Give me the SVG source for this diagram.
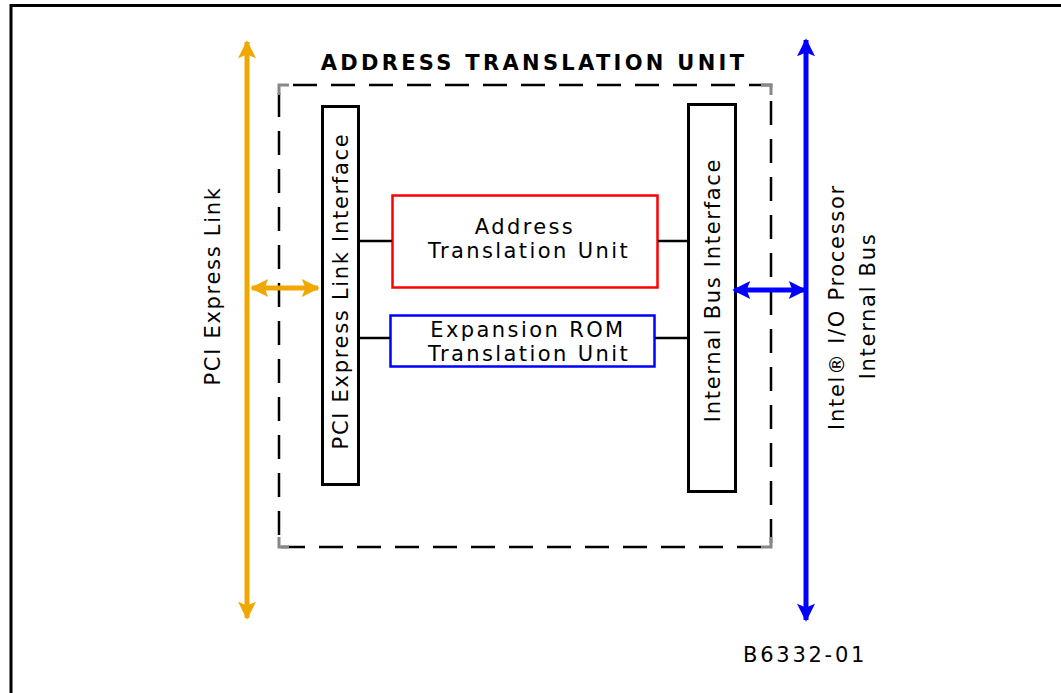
<svg xmlns="http://www.w3.org/2000/svg" width="1061" height="693" viewBox="0 0 1061 693">
  <style>
    text { font-family: "DejaVu Sans", Verdana, sans-serif; fill: #000; font-size: 21px; }
    .lbl { letter-spacing: 2.4px; }
    .vlbl { letter-spacing: 1.7px; }
    .title { font-weight: bold; letter-spacing: 3.3px; }
    .iface { fill: #fff; stroke: #000; stroke-width: 3; }
    .wire { stroke: #000; stroke-width: 2.5; fill: none; }
  </style>
  <defs>
    <marker id="ahO" viewBox="0 0 10 10" refX="9" refY="5" markerWidth="4" markerHeight="3.6" orient="auto-start-reverse" markerUnits="strokeWidth">
      <path d="M0,0 L10,5 L0,10 L2,5 Z" fill="#f0a800"/>
    </marker>
    <marker id="ahB" viewBox="0 0 10 10" refX="9" refY="5" markerWidth="4" markerHeight="3.6" orient="auto-start-reverse" markerUnits="strokeWidth">
      <path d="M0,0 L10,5 L0,10 L2,5 Z" fill="#0000ff"/>
    </marker>
  </defs>

  <rect width="1061" height="693" fill="#fff"/>
  <!-- outer frame -->
  <path d="M11,693 V5.5 H1061" fill="none" stroke="#000" stroke-width="3"/>

  <!-- dashed enclosure -->
  <g id="atu-boundary">
    <rect x="279" y="85" width="492" height="462" fill="none" stroke="#000" stroke-width="2.5" stroke-dasharray="24 14" stroke-dashoffset="-14"/>
    <path d="M279,95 V85 H289 M761,85 H771 V95 M771,537 V547 H761 M289,547 H279 V537" fill="none" stroke="#888" stroke-width="3"/>
    <text class="title" x="534" y="70" text-anchor="middle">ADDRESS TRANSLATION UNIT</text>
  </g>

  <g id="pcie-link-bus">
    <text class="vlbl" transform="translate(220,286) rotate(-90)" text-anchor="middle">PCI Express Link</text>
  </g>

  <g id="pcie-link-interface">
    <rect class="iface" x="322.5" y="106.5" width="36" height="378"/>
    <text class="vlbl" transform="translate(348,291) rotate(-90)" text-anchor="middle">PCI Express Link Interface</text>
  </g>

  <g id="address-translation-unit">
    <rect x="392.5" y="195.5" width="265" height="92" fill="#fff" stroke="#ff0000" stroke-width="2.5"/>
    <text class="lbl" x="525" y="234" text-anchor="middle">Address</text>
    <text class="lbl" x="529" y="258" text-anchor="middle">Translation Unit</text>
  </g>

  <g id="expansion-rom-translation-unit">
    <rect x="390.5" y="315.5" width="264" height="51" fill="#fff" stroke="#0000ff" stroke-width="2.5"/>
    <text class="lbl" x="528" y="337" text-anchor="middle">Expansion ROM</text>
    <text class="lbl" x="529" y="361" text-anchor="middle">Translation Unit</text>
  </g>

  <g id="internal-bus-interface">
    <rect class="iface" x="688.5" y="104.5" width="47" height="387"/>
    <text class="vlbl" transform="translate(720,290) rotate(-90)" text-anchor="middle">Internal Bus Interface</text>
  </g>

  <g id="processor-internal-bus">
    <text class="vlbl" transform="translate(844,307) rotate(-90)" text-anchor="middle">Intel® I/O Processor</text>
    <text class="vlbl" transform="translate(875,306) rotate(-90)" text-anchor="middle">Internal Bus</text>
  </g>

  <text x="743" y="662" letter-spacing="2.75">B6332-01</text>

  <g id="connectors">
    <line class="wire" x1="359" y1="241" x2="392" y2="241"/>
    <line class="wire" x1="658" y1="241" x2="688" y2="241"/>
    <line class="wire" x1="359" y1="338" x2="390" y2="338"/>
    <line class="wire" x1="655" y1="338" x2="688" y2="338"/>
    <line x1="247" y1="42" x2="247" y2="618" stroke="#f0a800" stroke-width="5" marker-start="url(#ahO)" marker-end="url(#ahO)"/>
    <line x1="806" y1="40" x2="806" y2="620" stroke="#0000ff" stroke-width="5" marker-start="url(#ahB)" marker-end="url(#ahB)"/>
    <line x1="252" y1="288" x2="318" y2="288" stroke="#f0a800" stroke-width="5" marker-start="url(#ahO)" marker-end="url(#ahO)"/>
    <line x1="734" y1="290" x2="805" y2="290" stroke="#0000ff" stroke-width="5" marker-start="url(#ahB)" marker-end="url(#ahB)"/>
  </g>
</svg>
